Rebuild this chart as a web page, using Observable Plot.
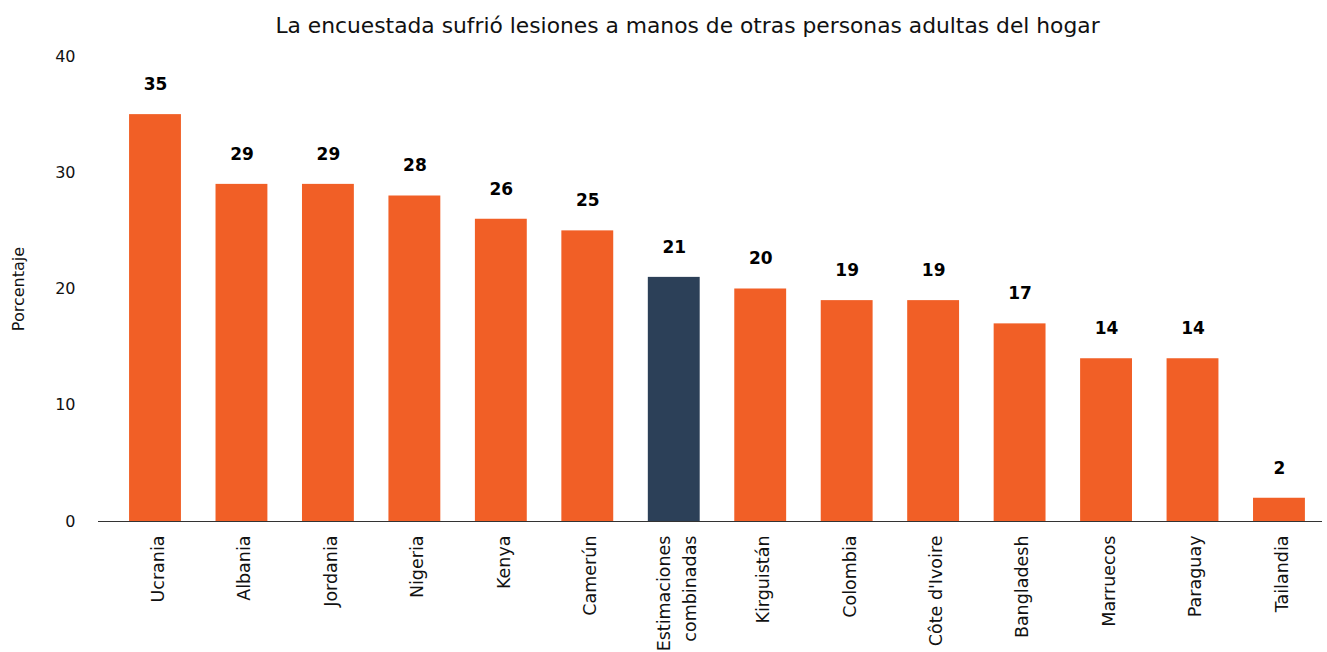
<!DOCTYPE html>
<html><head><meta charset="utf-8">
<script src="https://cdn.jsdelivr.net/npm/d3@7"></script>
<script src="https://cdn.jsdelivr.net/npm/@observablehq/plot@0.6"></script>
<style>
body{margin:0;background:#fff;font-family:"DejaVu Sans",sans-serif;}
#title{height:44px;width:1327px;text-align:center;font-size:21.8px;line-height:52px;color:#111;padding-left:48px;box-sizing:border-box;}
</style></head><body>
<div id="title">La encuestada sufrió lesiones a manos de otras personas adultas del hogar</div>
<div id="chart"></div>
<script>
const countries = ["Ucrania","Albania","Jordania","Nigeria","Kenya","Camerún","Estimaciones\ncombinadas","Kirguistán","Colombia","Côte d'Ivoire","Bangladesh","Marruecos","Paraguay","Tailandia"];
const values = [35,29,29,28,26,25,21,20,19,19,17,14,14,2];
const pooled = "Estimaciones\ncombinadas";
const yTicks = [0,10,20,30,40];
const data = countries.map((c,i)=>({country:c, value:values[i], pooled:c===pooled}));
const chart = Plot.plot({
  width:1327, height:608,
  marginTop:12, marginBottom:131, marginLeft:98, marginRight:5,
  style:{fontFamily:"'DejaVu Sans', sans-serif", fontSize:"16px", color:"#111"},
  x:{domain:countries, paddingInner:0.4, paddingOuter:0.2785, align:0.645, round:false, label:null},
  y:{domain:[0,40], ticks:yTicks, label:null},
  marks:[
    Plot.barY(data,{x:"country", y:"value", fill:d=>d.pooled?"#2C4058":"#F15F26"}),
    Plot.text(data,{x:"country", y:"value", text:d=>String(d.value), dy:-30, fontWeight:"bold", fontSize:17, fill:"#000"}),
    Plot.ruleY([0],{stroke:"#333"}),
    Plot.axisY({ticks:yTicks, tickSize:0, tickPadding:23, fontSize:16, label:"Porcentaje", labelAnchor:"center", labelArrow:"none", labelOffset:86}),
    Plot.axisX({tickSize:0, tickPadding:14, tickRotate:-90, label:null, fontSize:17.5, lineHeight:1.5})
  ]
});
chart.querySelectorAll("text").forEach(t=>{ if(t.textContent==="Porcentaje") t.setAttribute("font-size","16"); });
document.getElementById("chart").appendChild(chart);
</script></body></html>
